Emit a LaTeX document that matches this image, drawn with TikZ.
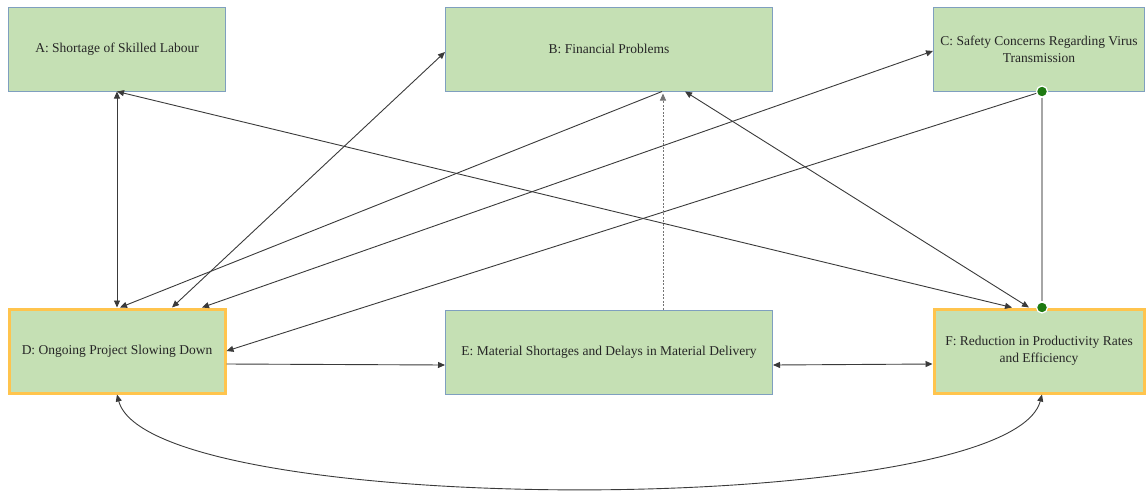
\documentclass[tikz,border=0pt]{standalone}
\usepackage{fontspec}
\setmainfont{Liberation Serif}
\usepackage{tikz}
\usepackage{xcolor}
\usetikzlibrary{positioning}
\usetikzlibrary{arrows.meta}
\usetikzlibrary{calc}
\definecolor{boxGreen}{HTML}{C5E0B4}
\definecolor{boxBlue}{HTML}{7F9FBF}
\definecolor{boxOrange}{HTML}{FFC44D}
\definecolor{lineDark}{HTML}{3A3A3A}
\definecolor{lineLight}{HTML}{A6A6A6}
\definecolor{dotGreen}{HTML}{1E7A12}
\tikzset{
   factorBox/.style={draw=boxBlue, fill=boxGreen, line width=1pt, minimum height=84pt, align=center, text=black!85, font=\fontsize{13.5}{17}\selectfont},
   keyBox/.style={factorBox, draw=boxOrange, line width=3pt},
   lineWithArrow/.style={draw=lineDark, line width=0.9pt, -{Triangle[length=7pt,width=6pt]}},
   lineWithArrows/.style={draw=lineDark, line width=0.9pt, {Triangle[length=7pt,width=6pt]}-{Triangle[length=7pt,width=6pt]}},
   lineDashedArrow/.style={lineWithArrow, draw=lineLight!70!black, dash pattern=on 2pt off 1.5pt},
   lineThickGray/.style={draw=lineLight, line width=2pt},
   vertex/.style={draw=white, shape=circle, fill=dotGreen, line width=1.2pt, minimum size=11pt, inner sep=0pt},
}

\begin{document}
\begin{tikzpicture}[node distance=216pt and 219pt]
  \useasboundingbox (0,0) rectangle (1147pt,-490pt);
  %
  \node[factorBox, minimum width=217pt] (skilledLabour) at (117pt,-49pt) {A: Shortage of Skilled Labour};
  \node[factorBox, minimum width=327pt, right=of skilledLabour] (financialProblems) {B: Financial Problems};
  \node[factorBox, minimum width=211pt, right=160pt of financialProblems] (safetyConcerns) {C: Safety Concerns Regarding Virus\\Transmission};
  %
  \node[keyBox, minimum width=216pt, below=of skilledLabour] (projectSlowing) {D: Ongoing Project Slowing Down};
  \node[factorBox, minimum width=327pt, below=218pt of financialProblems] (materialDelays) {E: Material Shortages and Delays in Material Delivery};
  \node[keyBox, minimum width=210pt, below=of safetyConcerns] (productivityLoss) {F: Reduction in Productivity Rates\\and Efficiency};
  %
  \node[vertex] (safetyDot) at ([xshift=3pt]safetyConcerns.south) {};
  \node[vertex] (productivityDot) at ([xshift=3pt]productivityLoss.north) {};
  %
  \draw[lineWithArrows] (skilledLabour.south) -- (projectSlowing.north);
  \draw[lineWithArrows] (skilledLabour.south) -- ([xshift=-27pt]productivityLoss.north);
  \draw[lineWithArrow] ([xshift=53pt]financialProblems.south) -- ([xshift=3pt]projectSlowing.north);
  \draw[lineWithArrows] ([xshift=55pt]projectSlowing.north) -- ([yshift=-3pt]financialProblems.west);
  \draw[lineWithArrows] ([xshift=85pt]projectSlowing.north) -- ([yshift=-2pt]safetyConcerns.west);
  \draw[lineWithArrows] ([xshift=76pt]financialProblems.south) -- ([xshift=-10pt]productivityLoss.north);
  \draw[lineWithArrow] (safetyDot) -- (projectSlowing.east);
  \draw[lineThickGray] (safetyDot) -- (productivityDot);
  %
  \draw[lineDashedArrow] ([xshift=54pt]materialDelays.north) -- ([xshift=54pt,yshift=-2pt]financialProblems.south);
  \draw[lineWithArrow] ([yshift=-13pt]projectSlowing.east) -- ([yshift=-13pt]materialDelays.west);
  \draw[lineWithArrows] ([yshift=-13pt]materialDelays.east) -- ([yshift=-13pt]productivityLoss.west);
  %
  % The long loop underneath, from D round to F.
  \draw[lineWithArrows] (projectSlowing.south) .. controls +(33pt,-125pt) and +(-33pt,-125pt) .. ([xshift=3pt]productivityLoss.south);
\end{tikzpicture}
\end{document}
